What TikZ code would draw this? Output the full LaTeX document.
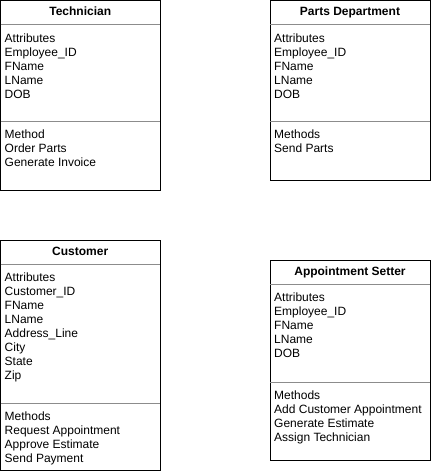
\documentclass[tikz,border=0pt]{standalone}
\usepackage{fontspec}
\setmainfont{Liberation Sans}
\tikzset{
  classframe/.style={draw=black, line width=1pt, fill=white, rectangle, inner sep=0pt, outer sep=0pt, anchor=north west},
  sepline/.style={draw={rgb,255:red,140;green,140;blue,140}, line width=1pt},
  classtitle/.style={font=\fontsize{12}{14}\selectfont\bfseries, inner sep=0pt, anchor=base},
  classline/.style={font=\fontsize{12}{14}\selectfont, inner sep=0pt, anchor=base west},
}
% name, x1, y1, x2, y2, y of second separator, title, attributes, methods
\newcommand\classbox[9]{%
  \node[classframe, minimum width={(#4-#2)*1pt}, minimum height={(#5-#3)*1pt}] (#1) at (#2,#3) {};
  \draw[sepline] ([yshift=-24pt]#1.north west) -- ([yshift=-24pt]#1.north east);
  \draw[sepline] ([yshift={-(#6-#3)*1pt}]#1.north west) -- ([yshift={-(#6-#3)*1pt}]#1.north east);
  \node[classtitle] (#1-title) at ([yshift=-15.5pt]#1.north) {#7};
  \foreach \t [count=\i] in {#8}
    \node[classline] (#1-a\i) at ([xshift=4pt,yshift={-(41.5+14*(\i-1))*1pt}]#1.north west) {\t};
  \foreach \t [count=\i] in {#9}
    \node[classline] (#1-m\i) at ([xshift=4pt,yshift={-(#6-#3+17.5+14*(\i-1))*1pt}]#1.north west) {\t};
}
\begin{document}
\begin{tikzpicture}[x=1pt,y=-1pt]
\useasboundingbox[fill=white] (0,0) rectangle (431,471);
\classbox{tech}{0.5}{0.5}{160}{190}{121}{Technician}%
  {Attributes,Employee\_ID,FName,LName,DOB}%
  {Method,Order Parts,Generate Invoice}
\classbox{parts}{270}{0.5}{430}{180}{121}{Parts Department}%
  {Attributes,Employee\_ID,FName,LName,DOB}%
  {Methods,Send Parts}
\classbox{cust}{0.5}{240}{160}{470}{403}{Customer}%
  {Attributes,Customer\_ID,FName,LName,Address\_Line,City,State,Zip}%
  {Methods,Request Appointment,Approve Estimate,Send Payment}
\classbox{appt}{270}{260}{430}{460}{382}{Appointment Setter}%
  {Attributes,Employee\_ID,FName,LName,DOB}%
  {Methods,Add Customer Appointment,Generate Estimate,Assign Technician}
\end{tikzpicture}
\end{document}
